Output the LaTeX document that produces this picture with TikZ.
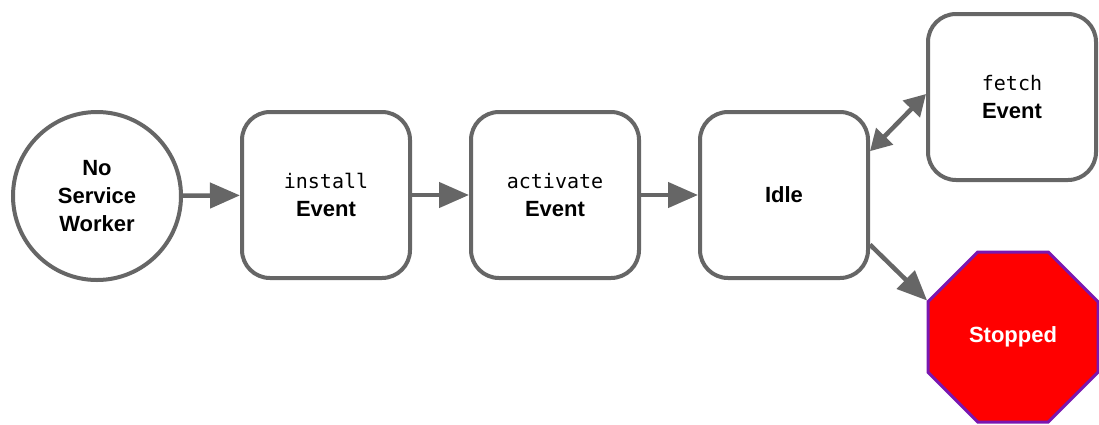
\documentclass[tikz,border=0pt]{standalone}
\usepackage{fontspec}
\setsansfont{Liberation Sans}
\setmonofont{DejaVu Sans Mono}
\usetikzlibrary{arrows.meta, shapes.geometric}

\definecolor{edgegray}{HTML}{666666}
\definecolor{stopred}{HTML}{FF0000}
\definecolor{stoppurple}{HTML}{7A16B0}

\tikzset{
  statebox/.style={draw=edgegray, line width=4pt, fill=white, rounded corners=28pt,
    minimum width=168pt, minimum height=166pt, align=center,
    font=\sffamily\bfseries\fontsize{22}{28}\selectfont},
  startcircle/.style={circle, draw=edgegray, line width=4pt, fill=white,
    minimum size=168pt, align=center,
    font=\sffamily\bfseries\fontsize{22}{28}\selectfont},
  stopsign/.style={regular polygon, regular polygon sides=8, draw=stoppurple,
    fill=stopred, line width=3pt, minimum size=184pt, text=white,
    font=\sffamily\bfseries\fontsize{22}{28}\selectfont},
  flow/.style={draw=edgegray, line width=4.5pt, -{Triangle[length=30pt,width=25pt]}},
  twoway/.style={draw=edgegray, line width=4.5pt,
    {Triangle[length=21pt,width=23pt]}-{Triangle[length=21pt,width=23pt]}},
}
\newcommand{\evtname}[1]{{\ttfamily\mdseries\fontsize{20}{28}\selectfont #1}}

\begin{document}
\begin{tikzpicture}[x=1pt, y=-1pt]
\useasboundingbox (0,0) rectangle (1099,424);

\coordinate (P0) at (97,196);
\coordinate (P1) at (326,195);
\coordinate (P2) at (555,195);
\coordinate (P3) at (784,195);
\coordinate (P4) at (1012,97);
\coordinate (P5) at (1013,337);

\node[startcircle] (nosw) at (P0) {No\\Service\\Worker};
\node[statebox] (install) at (P1) {\evtname{install}\\Event};
\node[statebox] (activate) at (P2) {\evtname{activate}\\Event};
\node[statebox] (idle) at (P3) {Idle};
\node[statebox] (fetch) at (P4) {\evtname{fetch}\\Event};
\node[stopsign] (stopped) at (P5) {Stopped};

\draw[flow] (nosw) -- (install);
\draw[flow] (install) -- (activate);
\draw[flow] (activate) -- (idle);
\draw[twoway] (idle.27) -- (fetch.178);
\draw[flow] (idle.-30) -- (stopped.157);
\end{tikzpicture}
\end{document}
